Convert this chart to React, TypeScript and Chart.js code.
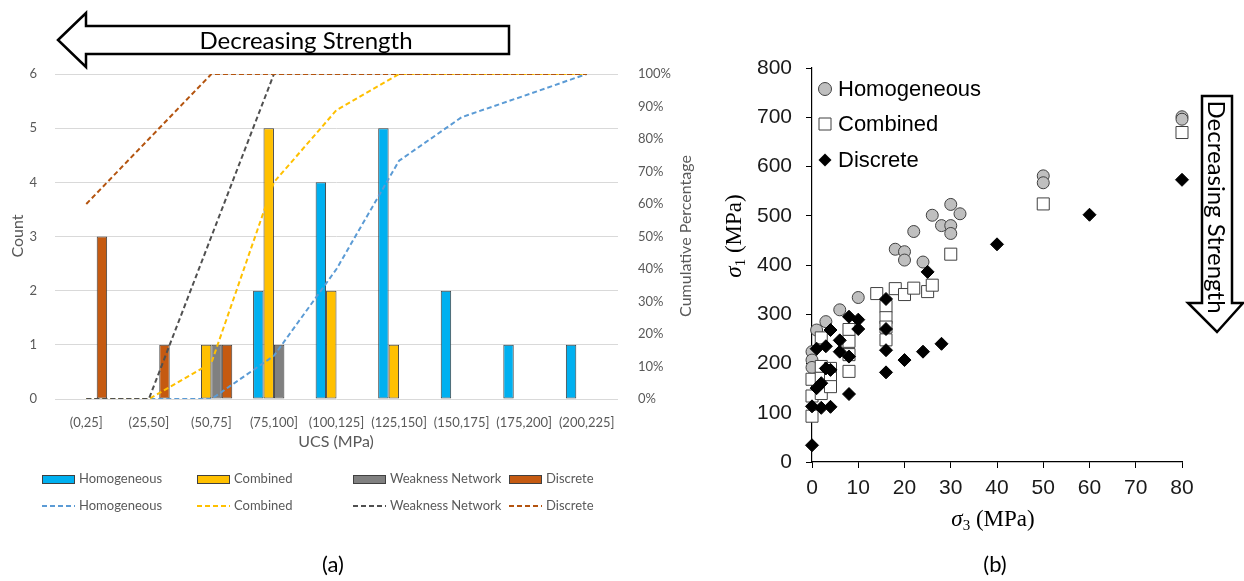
import React, { useEffect, useRef } from 'react';
import { Chart, registerables } from 'chart.js';

Chart.register(...registerables);

// ---------- Panel (a) data ----------
const ucsBins = ['(0,25]', '(25,50]', '(50,75]', '(75,100]', '(100,125]', '(125,150]', '(150,175]', '(175,200]', '(200,225]'];
const countHomogeneous = [0, 0, 0, 2, 4, 5, 2, 1, 1];
const countCombined = [0, 0, 1, 5, 2, 1, 0, 0, 0];
const countWeakness = [0, 0, 1, 1, 0, 0, 0, 0, 0];
const countDiscrete = [3, 1, 1, 0, 0, 0, 0, 0, 0];
const cumHomogeneous = [0, 0, 0, 13.3, 40, 73.3, 86.7, 93.3, 100];
const cumCombined = [0, 0, 11.1, 66.7, 88.9, 100, 100, 100, 100];
const cumWeakness = [0, 0, 50, 100, 100, 100, 100, 100, 100];
const cumDiscrete = [60, 80, 100, 100, 100, 100, 100, 100, 100];
const countTicks = [0, 1, 2, 3, 4, 5, 6];

// ---------- Panel (b) data ----------
const homoS3 = [0, 0, 0, 1, 3, 6, 10, 18, 20, 20, 24, 22, 26, 28, 30, 30, 30, 32, 50, 50, 80, 80];
const homoS1 = [224, 207, 192, 268, 285, 309, 334, 432, 427, 410, 406, 468, 501, 480, 523, 480, 464, 504, 581, 567, 701, 696];
const combS3 = [0, 0, 0, 2, 2, 2, 2, 4, 4, 4, 8, 8, 8, 8, 14, 16, 16, 16, 16, 18, 20, 22, 25, 26, 30, 50, 80];
const combS1 = [93, 134, 168, 252, 194, 170, 139, 190, 170, 153, 269, 245, 218, 184, 342, 316, 293, 274, 248, 352, 340, 353, 346, 359, 422, 524, 669];
const discS3 = [0, 0, 1, 1, 2, 2, 3, 3, 4, 4, 4, 6, 6, 8, 8, 8, 10, 10, 16, 16, 16, 16, 20, 24, 28, 25, 40, 60, 80];
const discS1 = [34, 113, 150, 230, 110, 160, 190, 235, 112, 187, 268, 247, 224, 295, 214, 138, 289, 270, 331, 270, 227, 182, 207, 224, 240, 386, 442, 502, 573];

const BAR_COLORS = { hom: '#00B0F0', comb: '#FFC000', weak: '#808080', disc: '#C55A11' };
const LINE_COLORS = { hom: '#5B9BD5', comb: '#FFC000', weak: '#505050', disc: '#B4540F' };
const TXT = '#595959';
const FONT_A = 'Lato, "Open Sans", sans-serif';
const FONT_B = '"Liberation Sans", Arial, sans-serif';
const SERIF = '"Liberation Serif", "Times New Roman", serif';

function drawHArrow(ctx: CanvasRenderingContext2D) {
  ctx.save();
  ctx.beginPath();
  ctx.moveTo(58, 40);
  ctx.lineTo(86, 13);
  ctx.lineTo(86, 26);
  ctx.lineTo(509, 26);
  ctx.lineTo(509, 54);
  ctx.lineTo(86, 54);
  ctx.lineTo(86, 67);
  ctx.closePath();
  ctx.fillStyle = '#fff';
  ctx.fill();
  ctx.lineWidth = 2.5;
  ctx.strokeStyle = '#000';
  ctx.lineJoin = 'miter';
  ctx.stroke();
  ctx.fillStyle = '#000';
  ctx.font = `24px ${FONT_A}`;
  ctx.textAlign = 'center';
  ctx.textBaseline = 'middle';
  ctx.fillText('Decreasing Strength', 306, 41);
  ctx.restore();
}

const extrasA = {
  id: 'extrasA',
  afterDraw(chart: any) {
    const ctx: CanvasRenderingContext2D = chart.ctx;
    drawHArrow(ctx);
    ctx.save();
    ctx.fillStyle = TXT;
    ctx.font = `16px ${FONT_A}`;
    ctx.textAlign = 'center';
    ctx.textBaseline = 'middle';
    // axis titles
    ctx.save();
    ctx.translate(18, 236);
    ctx.rotate(-Math.PI / 2);
    ctx.fillText('Count', 0, 0);
    ctx.restore();
    ctx.save();
    ctx.translate(686, 236);
    ctx.rotate(-Math.PI / 2);
    ctx.fillText('Cumulative Percentage', 0, 0);
    ctx.restore();
    ctx.fillText('UCS (MPa)', 336, 442);
    // legend
    const items = [
      { label: 'Homogeneous', bar: BAR_COLORS.hom, line: LINE_COLORS.hom, x: 42 },
      { label: 'Combined', bar: BAR_COLORS.comb, line: LINE_COLORS.comb, x: 197 },
      { label: 'Weakness Network', bar: BAR_COLORS.weak, line: LINE_COLORS.weak, x: 353 },
      { label: 'Discrete', bar: BAR_COLORS.disc, line: LINE_COLORS.disc, x: 509 },
    ];
    ctx.font = `13px ${FONT_A}`;
    ctx.textAlign = 'left';
    const r1 = 479, r2 = 506;
    items.forEach((it) => {
      ctx.fillStyle = it.bar;
      ctx.fillRect(it.x, r1 - 4, 32, 8);
      ctx.strokeStyle = '#404040';
      ctx.lineWidth = 1;
      ctx.strokeRect(it.x + 0.5, r1 - 4 + 0.5, 32, 8);
      ctx.beginPath();
      ctx.setLineDash([5, 3]);
      ctx.strokeStyle = it.line;
      ctx.lineWidth = 2;
      ctx.moveTo(it.x, r2);
      ctx.lineTo(it.x + 33, r2);
      ctx.stroke();
      ctx.setLineDash([]);
      ctx.fillStyle = TXT;
      ctx.fillText(it.label, it.x + 37, r1);
      ctx.fillText(it.label, it.x + 37, r2);
    });
    // panel label
    ctx.fillStyle = '#000';
    ctx.font = `22px ${FONT_A}`;
    ctx.textAlign = 'center';
    ctx.fillText('(a)', 333, 565);
    ctx.restore();
  },
};

const OFFB = 700;

function drawSubTitle(ctx: CanvasRenderingContext2D, sub: string) {
  // draws italic sigma + subscript + " (MPa)" centered at origin
  const big = `23px ${SERIF}`;
  const ital = `italic 23px ${SERIF}`;
  const small = `15px ${SERIF}`;
  ctx.font = ital;
  const w1 = ctx.measureText('σ').width;
  ctx.font = small;
  const w2 = ctx.measureText(sub).width;
  ctx.font = big;
  const w3 = ctx.measureText(' (MPa)').width;
  const total = w1 + w2 + w3;
  let x = -total / 2;
  ctx.textAlign = 'left';
  ctx.textBaseline = 'alphabetic';
  ctx.font = ital;
  ctx.fillText('σ', x, 8);
  x += w1;
  ctx.font = small;
  ctx.fillText(sub, x, 12);
  x += w2;
  ctx.font = big;
  ctx.fillText(' (MPa)', x, 8);
}

const extrasB = {
  id: 'extrasB',
  afterDraw(chart: any) {
    const ctx: CanvasRenderingContext2D = chart.ctx;
    ctx.save();
    ctx.fillStyle = '#000';
    // axis titles
    ctx.save();
    ctx.translate(733 - OFFB, 236);
    ctx.rotate(-Math.PI / 2);
    drawSubTitle(ctx, '1');
    ctx.restore();
    ctx.save();
    ctx.translate(993 - OFFB, 518);
    drawSubTitle(ctx, '3');
    ctx.restore();
    // legend
    const rows = [
      { label: 'Homogeneous', y: 89, style: 'circle' },
      { label: 'Combined', y: 124, style: 'rect' },
      { label: 'Discrete', y: 160, style: 'diamond' },
    ];
    const mx = 825 - OFFB;
    rows.forEach((r) => {
      ctx.beginPath();
      if (r.style === 'circle') {
        ctx.arc(mx, r.y, 6.5, 0, Math.PI * 2);
        ctx.fillStyle = '#BFBFBF';
        ctx.fill();
        ctx.strokeStyle = '#404040';
        ctx.lineWidth = 1;
        ctx.stroke();
      } else if (r.style === 'rect') {
        ctx.rect(mx - 6, r.y - 6, 12, 12);
        ctx.fillStyle = '#fff';
        ctx.fill();
        ctx.strokeStyle = '#404040';
        ctx.lineWidth = 1;
        ctx.stroke();
      } else {
        ctx.moveTo(mx, r.y - 6.5);
        ctx.lineTo(mx + 6.5, r.y);
        ctx.lineTo(mx, r.y + 6.5);
        ctx.lineTo(mx - 6.5, r.y);
        ctx.closePath();
        ctx.fillStyle = '#000';
        ctx.fill();
      }
      ctx.fillStyle = '#000';
      ctx.font = `22px ${FONT_B}`;
      ctx.textAlign = 'left';
      ctx.textBaseline = 'middle';
      ctx.fillText(r.label, 838 - OFFB, r.y + 1);
    });
    // vertical arrow
    const L = 1202 - OFFB, R = 1232 - OFFB, HL = 1188 - OFFB, HR = 1243 - OFFB, C = 1217 - OFFB;
    ctx.beginPath();
    ctx.moveTo(L, 96);
    ctx.lineTo(R, 96);
    ctx.lineTo(R, 303);
    ctx.lineTo(HR, 303);
    ctx.lineTo(C, 332);
    ctx.lineTo(HL, 303);
    ctx.lineTo(L, 303);
    ctx.closePath();
    ctx.fillStyle = '#fff';
    ctx.fill();
    ctx.strokeStyle = '#000';
    ctx.lineWidth = 2.5;
    ctx.stroke();
    ctx.save();
    ctx.translate(C, 207);
    ctx.rotate(Math.PI / 2);
    ctx.fillStyle = '#000';
    ctx.font = `24px ${FONT_A}`;
    ctx.textAlign = 'center';
    ctx.textBaseline = 'middle';
    ctx.fillText('Decreasing Strength', 0, 1);
    ctx.restore();
    // panel label
    ctx.fillStyle = '#000';
    ctx.font = `22px ${FONT_A}`;
    ctx.textAlign = 'center';
    ctx.textBaseline = 'middle';
    ctx.fillText('(b)', 995 - OFFB, 565);
    ctx.restore();
  },
};

export default function App() {
  const refA = useRef<HTMLCanvasElement>(null);
  const refB = useRef<HTMLCanvasElement>(null);

  useEffect(() => {
    const barDs = (label: string, data: number[], color: string) => ({
      type: 'bar' as const,
      label,
      data: data.map((v) => (v === 0 ? null : v)),
      backgroundColor: color,
      borderColor: '#404040',
      borderWidth: 1,
      borderSkipped: false,
      yAxisID: 'y',
      order: 10,
      categoryPercentage: 0.667,
      barPercentage: 1.0,
    });
    const lineDs = (label: string, data: number[], color: string, order: number) => ({
      type: 'line' as const,
      label,
      data: data.map((v) => v / 100),
      borderColor: color,
      backgroundColor: color,
      borderWidth: 2,
      borderDash: [5, 3],
      pointRadius: 0,
      fill: false,
      tension: 0,
      yAxisID: 'y1',
      order,
    });
    const tickFontA = { family: FONT_A, size: 13 };
    const chartA = new Chart(refA.current!, {
      type: 'bar',
      data: {
        labels: ucsBins,
        datasets: [
          barDs('Homogeneous', countHomogeneous, BAR_COLORS.hom),
          barDs('Combined', countCombined, BAR_COLORS.comb),
          barDs('Weakness Network', countWeakness, BAR_COLORS.weak),
          barDs('Discrete', countDiscrete, BAR_COLORS.disc),
          lineDs('Homogeneous', cumHomogeneous, LINE_COLORS.hom, 4),
          lineDs('Combined', cumCombined, LINE_COLORS.comb, 3),
          lineDs('Weakness Network', cumWeakness, LINE_COLORS.weak, 2),
          lineDs('Discrete', cumDiscrete, LINE_COLORS.disc, 1),
        ] as any,
      },
      options: {
        responsive: false,
        animation: false,
        layout: { padding: { top: 74, left: 0, right: 0, bottom: 0 } },
        plugins: { legend: { display: false }, tooltip: { enabled: false } },
        scales: {
          x: {
            type: 'category',
            offset: true,
            grid: { display: false },
            border: { display: false },
            ticks: { font: tickFontA, color: TXT, padding: 8, autoSkip: false, maxRotation: 0 },
            afterFit: (s: any) => { s.height = 182; },
          },
          y: {
            position: 'left',
            min: 0,
            max: 6,
            afterBuildTicks: (s: any) => { s.ticks = countTicks.map((v) => ({ value: v })); },
            ticks: { font: tickFontA, color: TXT, padding: 18 },
            grid: { color: '#D9D9D9', drawTicks: false, lineWidth: 1 },
            border: { display: false },
            afterFit: (s: any) => { s.width = 55; },
          },
          y1: {
            position: 'right',
            min: 0,
            max: 1,
            ticks: {
              stepSize: 0.1,
              font: tickFontA,
              color: TXT,
              padding: 12,
              callback: (v: any) => Math.round(Number(v) * 100) + '%',
            },
            grid: { display: false },
            border: { display: false },
            afterFit: (s: any) => { s.width = 102; },
          },
        },
      } as any,
      plugins: [extrasA],
    });

    const pts = (xs: number[], ys: number[]) => xs.map((x, i) => ({ x, y: ys[i] }));
    const tickFontB = { family: FONT_B, size: 21 };
    const chartB = new Chart(refB.current!, {
      type: 'scatter',
      data: {
        datasets: [
          {
            label: 'Homogeneous',
            data: pts(homoS3, homoS1),
            pointStyle: 'circle',
            pointRadius: 6,
            backgroundColor: '#BFBFBF',
            borderColor: '#404040',
            borderWidth: 1,
            clip: false,
            order: 3,
          },
          {
            label: 'Combined',
            data: pts(combS3, combS1),
            pointStyle: 'rect',
            pointRadius: 8.5,
            backgroundColor: '#FFFFFF',
            borderColor: '#404040',
            borderWidth: 1,
            clip: false,
            order: 2,
          },
          {
            label: 'Discrete',
            data: pts(discS3, discS1),
            pointStyle: 'rectRot',
            pointRadius: 6.5,
            backgroundColor: '#000000',
            borderColor: '#000000',
            borderWidth: 1,
            clip: false,
            order: 1,
          },
        ] as any,
      },
      options: {
        responsive: false,
        animation: false,
        layout: { padding: { top: 68, left: 0, right: 62, bottom: 0 } },
        plugins: { legend: { display: false }, tooltip: { enabled: false } },
        scales: {
          x: {
            type: 'linear',
            min: 0,
            max: 80,
            ticks: { stepSize: 10, font: tickFontB, color: '#1a1a1a', padding: 8 },
            grid: { drawOnChartArea: false, drawTicks: true, tickLength: 6, color: '#000' },
            border: { display: true, color: '#000', width: 1.2 },
            afterFit: (s: any) => { s.height = 119; },
          },
          y: {
            type: 'linear',
            min: 0,
            max: 800,
            ticks: { stepSize: 100, font: tickFontB, color: '#1a1a1a', padding: 14 },
            grid: { drawOnChartArea: false, drawTicks: true, tickLength: 6, color: '#000' },
            border: { display: true, color: '#000', width: 1.2 },
            afterFit: (s: any) => { s.width = 112; },
          },
        },
      } as any,
      plugins: [extrasB],
    });

    return () => {
      chartA.destroy();
      chartB.destroy();
    };
  }, []);

  return (
    <div style={{ position: 'absolute', left: 0, top: 0, width: 1244, height: 581, background: '#fff', overflow: 'hidden' }}>
      <canvas ref={refA} width={720} height={581} style={{ position: 'absolute', left: 0, top: 0, display: 'block' }} />
      <canvas ref={refB} width={544} height={581} style={{ position: 'absolute', left: OFFB, top: 0, display: 'block' }} />
    </div>
  );
}
